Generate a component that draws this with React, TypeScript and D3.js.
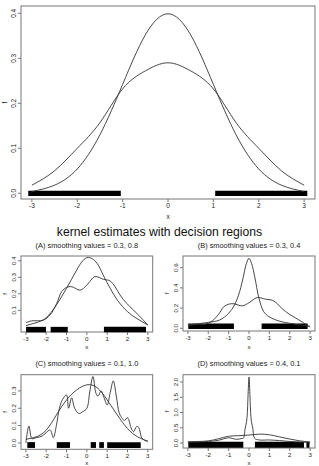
import React from 'react';
import * as d3 from 'd3';

// ---- data ----
const xTickValues = [-3, -2, -1, 0, 1, 2, 3];
const gridX = [-3, -2.5, -2, -1.5, -1, -0.5, 0, 0.5, 1, 1.5, 2, 2.5, 3];

// top panel: the two true densities
const topNarrow = [0.004, 0.018, 0.054, 0.13, 0.242, 0.352, 0.399, 0.352, 0.242, 0.13, 0.054, 0.018, 0.004];
const topWide = [0.018, 0.05, 0.1, 0.157, 0.232, 0.272, 0.29, 0.272, 0.232, 0.157, 0.1, 0.05, 0.018];
const topRegions = [[-3.08, -1.04], [1.04, 3.07]];
const topYTicks = [0, 0.1, 0.2, 0.3, 0.4];

// class 1, smoothing 0.3 (panels A and B)
const h03X = [-3, -2.71, -2.14, -1.81, -1.48, -1.24, -0.99, -0.74, -0.33, 0, 0.4, 0.81, 1.14, 1.39, 1.63, 1.96, 2.29, 2.62, 3];
const h03Y = [0.025, 0.036, 0.04, 0.072, 0.142, 0.213, 0.239, 0.243, 0.222, 0.253, 0.304, 0.288, 0.278, 0.243, 0.193, 0.142, 0.102, 0.061, 0.011];

// class 2, smoothing 0.8 (panel A)
const h08X = [-3, -2.5, -2, -1.5, -1, -0.5, 0, 0.5, 0.8, 1.15, 1.5, 2, 2.5, 3];
const h08Y = [0.007, 0.025, 0.055, 0.132, 0.233, 0.344, 0.419, 0.385, 0.314, 0.233, 0.162, 0.092, 0.047, 0.011];
const aRegions = [[-2.99, -2.01], [-1.78, -0.94], [0.84, 2.91]];
const aYTicks = [0.1, 0.2, 0.3, 0.4];

// class 2, smoothing 0.4 (panel B)
const h04X = [-3, -1.98, -1.44, -1, -0.71, -0.46, -0.26, -0.13, 0, 0.13, 0.28, 0.49, 0.72, 0.98, 1.47, 2, 2.5, 3];
const h04Y = [0.033, 0.059, 0.082, 0.148, 0.231, 0.363, 0.528, 0.64, 0.693, 0.64, 0.511, 0.297, 0.165, 0.115, 0.072, 0.049, 0.033, 0.02];
const bRegions = [[-2.98, -0.74], [0.62, 2.88]];
const bYTicks = [0, 0.2, 0.4, 0.6];

// panel C: class 1 smoothing 0.1, class 2 smoothing 1.0
const h01X = [-3, -2.85, -2.7, -2.5, -2.2, -1.95, -1.8, -1.65, -1.5, -1.35, -1.2, -1, -0.9, -0.75, -0.6, -0.4, -0.2, 0, 0.15, 0.3, 0.45, 0.55, 0.7, 0.85, 1, 1.15, 1.3, 1.45, 1.6, 1.75, 1.85, 2, 2.2, 2.3, 2.45, 2.55, 2.7, 2.85, 3];
const h01Y = [0.0, 0.097, 0.025, 0.03, 0.04, 0.065, 0.075, 0.03, 0.1, 0.2, 0.25, 0.277, 0.2, 0.26, 0.2, 0.17, 0.18, 0.2, 0.3, 0.383, 0.286, 0.27, 0.3, 0.26, 0.219, 0.29, 0.358, 0.27, 0.17, 0.14, 0.13, 0.145, 0.08, 0.065, 0.095, 0.09, 0.03, 0.015, 0.01];
const h10Y = [0.021, 0.035, 0.074, 0.161, 0.248, 0.306, 0.335, 0.319, 0.248, 0.161, 0.083, 0.035, 0.01];
const cRegions = [[-2.93, -2.55], [-1.48, -0.83], [0.19, 0.45], [0.61, 0.84], [1.0, 2.65]];
const cYTicks = [0, 0.1, 0.2, 0.3];

// panel D: class 1 smoothing 0.4, class 2 smoothing 0.1
const dBroadY = [0.04, 0.05, 0.07, 0.14, 0.22, 0.24, 0.26, 0.29, 0.27, 0.2, 0.13, 0.07, 0.03];
const dSpikeX = [-3, -2, -1.5, -1, -0.6, -0.35, -0.27, -0.19, -0.12, -0.08, -0.05, 0, 0.05, 0.08, 0.12, 0.19, 0.27, 0.5, 1, 1.5, 2, 2.5, 3];
const dSpikeY = [0.02, 0.05, 0.09, 0.17, 0.12, 0.15, 0.16, 0.47, 0.7, 1.0, 1.5, 2.16, 1.5, 1.0, 0.7, 0.47, 0.16, 0.1, 0.1, 0.08, 0.05, 0.03, 0.01];
const dRegions = [[-2.98, -0.28], [0.29, 2.7], [2.82, 2.97]];
const dYTicks = [0, 0.5, 1, 1.5, 2];

const zip = (xs, ys) => xs.map((x, i) => [x, ys[i]]);

const FONT = '"Liberation Sans", Arial, sans-serif';
const INK = '#333';
const FRAME = '#777';

const Panel = ({box, yDomain, yTicks, curves, regions, regionLevel, subtitle, tickSize, barWidth, xLabelGap}) => {
    const x = d3.scaleLinear().domain([-3.24, 3.24]).range([box.x0, box.x1]);
    const y = d3.scaleLinear().domain(yDomain).range([box.y1, box.y0]);
    const line = d3.line().x(d => x(d[0])).y(d => y(d[1]));
    const cx = (box.x0 + box.x1) / 2;
    const cy = (box.y0 + box.y1) / 2;

    return (
        <g>
            {subtitle && (
                <text x={cx} y={box.y0 - 8.5} textAnchor="middle" fontSize={7.4} fontFamily={FONT} fill="#222">{subtitle}</text>
            )}
            <rect x={box.x0} y={box.y0} width={box.x1 - box.x0} height={box.y1 - box.y0}
                  fill="none" stroke={FRAME} strokeWidth={1}/>
            {/* x axis */}
            {xTickValues.map(t => (
                <g key={'x' + t}>
                    <line x1={x(t)} x2={x(t)} y1={box.y1} y2={box.y1 + 3} stroke={FRAME}/>
                    <text x={x(t)} y={box.y1 + tickSize + 2.4} textAnchor="middle" fontSize={tickSize}
                          fontFamily={FONT} fill="#222">{t}</text>
                </g>
            ))}
            <text x={cx} y={box.y1 + xLabelGap} textAnchor="middle" fontSize={tickSize} fontFamily={FONT} fill="#222">x</text>
            {/* y axis */}
            {yTicks.map(t => (
                <g key={'y' + t}>
                    <line x1={box.x0 - 3} x2={box.x0} y1={y(t)} y2={y(t)} stroke={FRAME}/>
                    <text transform={`translate(${box.x0 - 5.4},${y(t)}) rotate(-90)`} textAnchor="middle"
                          fontSize={tickSize} fontFamily={FONT} fill="#222">{t.toFixed(1)}</text>
                </g>
            ))}
            <text transform={`translate(${box.x0 - 14.5},${cy}) rotate(-90)`} textAnchor="middle"
                  fontSize={tickSize} fontFamily={FONT} fill="#222">f</text>
            {/* decision regions */}
            {regions.map((r, i) => (
                <line key={'r' + i} x1={x(r[0])} x2={x(r[1])} y1={y(regionLevel)} y2={y(regionLevel)}
                      stroke="#000" strokeWidth={barWidth}/>
            ))}
            {curves.map((c, i) => (
                <path key={'c' + i} d={line.curve(c.smooth ? d3.curveNatural : d3.curveCatmullRom.alpha(0.5))(c.points)}
                      fill="none" stroke={INK} strokeWidth={0.9}/>
            ))}
        </g>
    );
};

export default function App() {
    return (
        <svg width={319} height={466} style={{position: 'absolute', left: 0, top: 0, background: '#fff'}}>
            <Panel box={{x0: 21, x1: 315, y0: 6, y1: 199}} yDomain={[-0.0127, 0.4162]} yTicks={topYTicks}
                   curves={[{points: zip(gridX, topNarrow), smooth: true}, {points: zip(gridX, topWide), smooth: true}]}
                   regions={topRegions} regionLevel={0} tickSize={6.5} barWidth={5.3} xLabelGap={19.5}/>
            <text x={159.5} y={235.5} textAnchor="middle" fontSize={12.2} fontFamily={FONT} fill="#111">
                kernel estimates with decision regions
            </text>
            <Panel box={{x0: 21, x1: 152.7, y0: 256, y1: 332}} yDomain={[-0.0315, 0.429]} yTicks={aYTicks}
                   curves={[{points: zip(h03X, h03Y)}, {points: zip(h08X, h08Y), smooth: true}]}
                   regions={aRegions} regionLevel={-0.017} subtitle="(A) smoothing values = 0.3, 0.8"
                   tickSize={6.2} barWidth={5.5} xLabelGap={17}/>
            <Panel box={{x0: 183, x1: 315, y0: 256, y1: 331}} yDomain={[-0.027, 0.716]} yTicks={bYTicks}
                   curves={[{points: zip(h03X, h03Y)}, {points: zip(h04X, h04Y)}]}
                   regions={bRegions} regionLevel={0.02} subtitle="(B) smoothing values = 0.3, 0.4"
                   tickSize={6.2} barWidth={5.5} xLabelGap={18}/>
            <Panel box={{x0: 21, x1: 152.7, y0: 374.7, y1: 449.3}} yDomain={[-0.0366, 0.3935]} yTicks={cYTicks}
                   curves={[{points: zip(h01X, h01Y)}, {points: zip(gridX, h10Y), smooth: true}]}
                   regions={cRegions} regionLevel={-0.012} subtitle="(C) smoothing values = 0.1, 1.0"
                   tickSize={6.2} barWidth={5.8} xLabelGap={16}/>
            <Panel box={{x0: 183, x1: 315, y0: 374.7, y1: 448}} yDomain={[-0.164, 2.24]} yTicks={dYTicks}
                   curves={[{points: zip(gridX, dBroadY), smooth: true}, {points: zip(dSpikeX, dSpikeY)}]}
                   regions={dRegions} regionLevel={-0.056} subtitle="(D) smoothing values = 0.4, 0.1"
                   tickSize={6.2} barWidth={6} xLabelGap={17.3}/>
        </svg>
    );
}
